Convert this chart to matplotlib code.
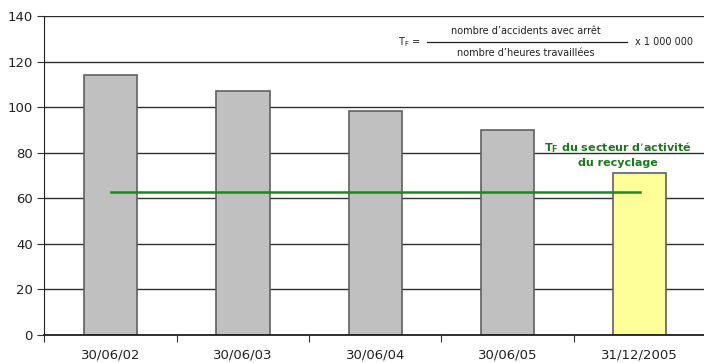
import matplotlib.pyplot as plt
import numpy as np

# Taux de fréquence par date de relevé
dates = ['30/06/02', '30/06/03', '30/06/04', '30/06/05', '31/12/2005']
tf_values = [114.2, 106.9, 98.4, 90.1, 70.9]
bar_colors = ['#c0c0c0', '#c0c0c0', '#c0c0c0', '#c0c0c0', '#ffff99']
tf_secteur = 62.7
yticks = [0, 20, 40, 60, 80, 100, 120, 140]

plt.rcParams['font.family'] = 'DejaVu Sans'

fig = plt.figure(figsize=(7.04, 3.63), dpi=100)
ax = fig.add_axes([0.0632, 0.0771, 0.9396, 0.8788])

x = np.arange(len(dates))
ax.set_axisbelow(True)
ax.yaxis.grid(True, color='#303030', linewidth=1.0)
ax.bar(x, tf_values, width=0.403, color=bar_colors, edgecolor='#606060', linewidth=1.2, zorder=2)

# TF moyen du secteur
ax.plot([x[0], x[-1]], [tf_secteur, tf_secteur], color='#1a8a1a', linewidth=1.8, zorder=3)

ax.set_xlim(-0.5, len(dates) - 0.5)
ax.set_ylim(0, 140)
ax.set_yticks(yticks)
ax.set_xticks(np.arange(len(dates) + 1) - 0.5, minor=False)
ax.set_xticklabels([])
ax.set_xticks(x, minor=True)
ax.set_xticklabels(dates, minor=True, fontsize=9.5, color='#222222')
ax.tick_params(axis='x', which='minor', length=0, pad=10)
ax.tick_params(axis='x', which='major', length=5, color='#303030')
ax.tick_params(axis='y', labelsize=9.5, length=5, color='#303030', labelcolor='#222222')

for side in ['top', 'right']:
    ax.spines[side].set_visible(False)
ax.spines['left'].set_color('#202020')
ax.spines['bottom'].set_color('#202020')
ax.spines['bottom'].set_linewidth(1.3)

# Formule du taux de fréquence
fig.text(398 / 704, 1 - 42 / 363, r'T$_\mathregular{F}$ =', fontsize=7, va='center', ha='left', color='#222222')
fig.text(526 / 704, 1 - 31 / 363, "nombre d’accidents avec arrêt", fontsize=7, va='center', ha='center', color='#222222')
fig.text(526 / 704, 1 - 53 / 363, "nombre d’heures travaillées", fontsize=7, va='center', ha='center', color='#222222')
fig.add_artist(plt.Line2D([427 / 704, 627 / 704], [1 - 42 / 363, 1 - 42 / 363], color='#222222', linewidth=0.9))
fig.text(635 / 704, 1 - 42 / 363, 'x 1 000 000', fontsize=7, va='center', ha='left', color='#222222')

fig.text(618 / 704, 1 - 154 / 363, "T$_\\mathregular{F}$ du secteur d’activité\ndu recyclage",
         fontsize=8, fontweight='bold', color='#1a7a1a', ha='center', va='center',
         linespacing=1.4)

fig.savefig('out.png', dpi=100)
